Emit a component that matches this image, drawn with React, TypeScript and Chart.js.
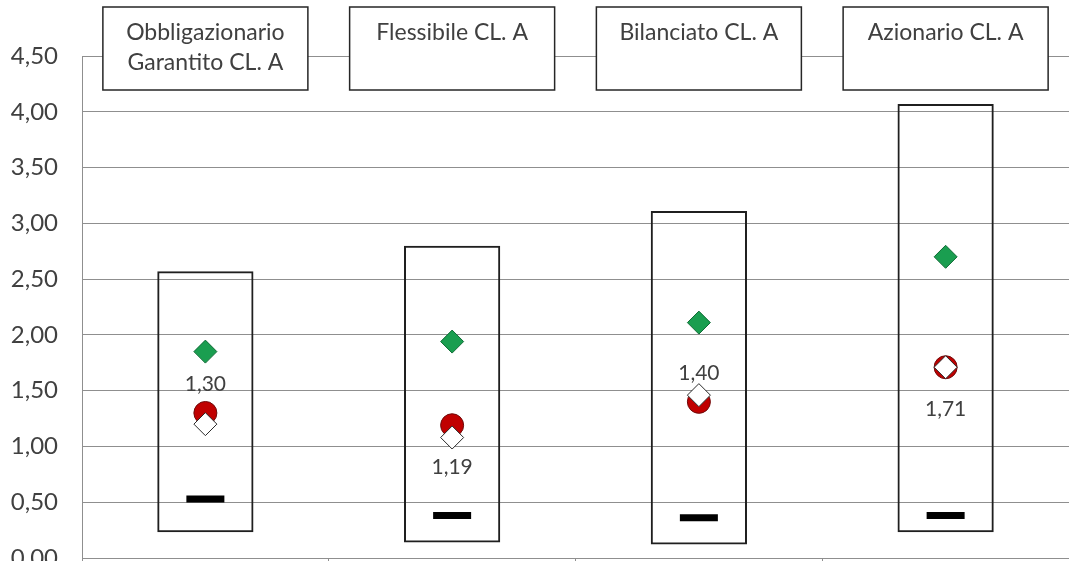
import React, { useEffect, useRef } from "react";
import { Chart, registerables } from "chart.js";

Chart.register(...registerables);

const categories: string[][] = [
  ["Obbligazionario", "Garantito CL. A"],
  ["Flessibile CL. A"],
  ["Bilanciato CL. A"],
  ["Azionario CL. A"],
];
const boxLow = [0.23, 0.14, 0.12, 0.23];
const boxHigh = [2.57, 2.8, 3.11, 4.07];
const greenDiamond = [1.85, 1.94, 2.11, 2.7];
const redCircle = [1.3, 1.19, 1.4, 1.71];
const whiteDiamond = [1.2, 1.08, 1.46, 1.71];
const blackDash = [0.53, 0.38, 0.36, 0.38];
const labelPlacement = ["above", "below", "above", "below"];
const yTicks = [0, 0.5, 1, 1.5, 2, 2.5, 3, 3.5, 4, 4.5];

const FONT = "Lato, 'Open Sans', sans-serif";
const TEXT = "#404040";
const GRID = "#8f8f8f";

const fmt = (v: number) => v.toFixed(2).replace(".", ",");

export default function App() {
  const ref = useRef<HTMLCanvasElement | null>(null);

  useEffect(() => {
    document.body.style.margin = "0";
    const canvas = ref.current!;
    const topBoxes = {
      id: "topBoxes",
      afterDraw(chart: any) {
        const ctx = chart.ctx;
        const xs = chart.scales.x;
        ctx.save();
        categories.forEach((lines, i) => {
          const cx = xs.getPixelForValue(i);
          const w = 205;
          const top = 7;
          const h = 83;
          ctx.fillStyle = "#ffffff";
          ctx.fillRect(cx - w / 2, top, w, h);
          ctx.strokeStyle = "#262626";
          ctx.lineWidth = 1.5;
          ctx.strokeRect(cx - w / 2, top, w, h);
          ctx.fillStyle = TEXT;
          ctx.font = `23px ${FONT}`;
          ctx.textAlign = "center";
          ctx.textBaseline = "middle";
          lines.forEach((t, k) => {
            ctx.fillText(t, cx, top + 26 + k * 30);
          });
        });
        ctx.restore();
      },
    };
    const dataLabels = {
      id: "dataLabels",
      afterDatasetsDraw(chart: any) {
        const ctx = chart.ctx;
        const meta = chart.getDatasetMeta(2);
        ctx.save();
        ctx.fillStyle = TEXT;
        ctx.font = `21px ${FONT}`;
        ctx.textAlign = "center";
        ctx.textBaseline = "middle";
        meta.data.forEach((pt: any, i: number) => {
          const dy = labelPlacement[i] === "above" ? -29 : 42;
          ctx.fillText(fmt(redCircle[i]), pt.x, pt.y + dy);
        });
        ctx.restore();
      },
    };

    const chart = new Chart(canvas, {
      type: "bar",
      data: {
        labels: categories.map((c) => c.join(" ")),
        datasets: [
          {
            type: "bar",
            data: boxLow.map((l, i) => [l, boxHigh[i]]) as any,
            backgroundColor: "rgba(0,0,0,0)",
            borderColor: "#1f1f1f",
            borderWidth: 2,
            borderSkipped: false,
            barPercentage: 0.39,
            categoryPercentage: 1,
            order: 5,
          } as any,
          {
            type: "line",
            data: greenDiamond,
            showLine: false,
            pointStyle: "rectRot",
            pointRadius: 11.5,
            backgroundColor: "#1a9e50",
            borderColor: "#0f6b35",
            borderWidth: 1,
            order: 3,
          } as any,
          {
            type: "line",
            data: redCircle,
            showLine: false,
            pointStyle: "circle",
            pointRadius: 11.5,
            backgroundColor: "#c00000",
            borderColor: "#6e0a0a",
            borderWidth: 1,
            order: 2,
          } as any,
          {
            type: "line",
            data: whiteDiamond,
            showLine: false,
            pointStyle: "rectRot",
            pointRadius: 11.5,
            backgroundColor: "#ffffff",
            borderColor: "#2a2a2a",
            borderWidth: 1,
            order: 1,
          } as any,
          {
            type: "line",
            data: blackDash,
            showLine: false,
            pointStyle: "line",
            pointRadius: 19,
            borderColor: "#000000",
            borderWidth: 7,
            order: 4,
          } as any,
        ],
      },
      options: {
        responsive: false,
        animation: false,
        devicePixelRatio: 1,
        layout: { autoPadding: false, padding: { top: 56, left: 0, right: 0, bottom: 0 } },
        plugins: {
          legend: { display: false },
          tooltip: { enabled: false },
        },
        scales: {
          x: {
            ticks: { display: false },
            grid: {
              display: true,
              drawOnChartArea: false,
              offset: true,
              tickLength: 3,
              color: GRID,
            },
            border: { display: true, color: GRID, width: 1 },
            afterFit: (s: any) => {
              s.height = 3;
              s.paddingLeft = 0;
              s.paddingRight = 0;
              s.paddingTop = 0;
              s.paddingBottom = 0;
            },
          },
          y: {
            min: 0,
            max: 4.5,
            afterBuildTicks: (s: any) => {
              s.ticks = yTicks.map((v) => ({ value: v }));
            },
            ticks: {
              padding: 24,
              color: TEXT,
              font: { family: FONT, size: 24 },
              callback: (v: any) => fmt(Number(v)),
            },
            grid: { color: GRID, lineWidth: 1, drawTicks: false },
            border: { display: true, color: GRID, width: 1 },
            afterFit: (s: any) => {
              s.width = 82;
              s.paddingTop = 0;
              s.paddingBottom = 0;
              s.paddingLeft = 0;
              s.paddingRight = 0;
            },
          },
        },
      },
      plugins: [dataLabels, topBoxes],
    });
    return () => chart.destroy();
  }, []);

  return (
    <div style={{ position: "absolute", left: 0, top: 0, width: 1069, height: 561, background: "#fff" }}>
      <canvas ref={ref} width={1069} height={561} />
    </div>
  );
}
